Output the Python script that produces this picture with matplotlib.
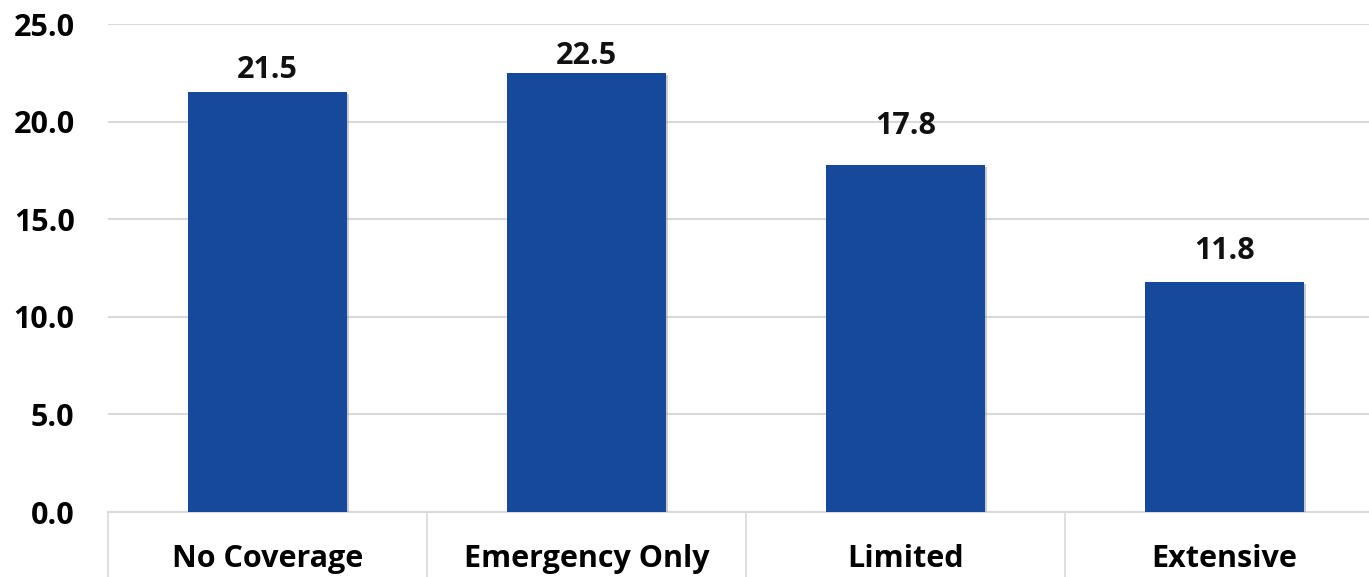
import matplotlib.pyplot as plt
import matplotlib.patheffects as pe
import numpy as np

categories = ["No Coverage", "Emergency Only", "Limited", "Extensive"]
values = [21.5, 22.5, 17.8, 11.8]
yticks = [0, 5, 10, 15, 20, 25]

# gap above each bar for its label (points), as placed in the original
label_gaps = [5, 1.5, 17, 11]

plt.rcParams['font.family'] = ['Open Sans', 'DejaVu Sans']

W, H = 1369, 577
fig = plt.figure(figsize=(W / 100, H / 100), dpi=100)
ax = fig.add_axes([108 / W, (H - 512) / H, (1384 - 108) / W, (512 - 24) / H])

x = np.arange(len(categories))
bars = ax.bar(x, values, width=0.5, color="#16499c", zorder=3)
for b in bars:
    b.set_path_effects([pe.SimplePatchShadow(offset=(1.5, -1.5), shadow_rgbFace="#999999", alpha=0.5),
                        pe.Normal()])

for xi, v, g in zip(x, values, label_gaps):
    ax.annotate(f"{v:.1f}", (xi, v), xytext=(0, g), textcoords="offset points",
                ha="center", va="bottom", fontsize=22, fontweight="bold", color="#111111")

ax.set_xlim(-0.5, len(categories) - 0.5)
ax.set_ylim(0, 25)
ax.set_yticks(yticks)
ax.set_yticklabels([f"{t:.1f}" for t in yticks], fontsize=22, fontweight="bold")
ax.yaxis.grid(True, color="#d9d9d9", linewidth=1.5, zorder=0)
ax.tick_params(axis="y", length=0, pad=24)

ax.set_xticks(x)
ax.set_xticklabels(categories, fontsize=22, fontweight="bold")
ax.set_xticks(np.arange(len(categories) + 1) - 0.5, minor=True)
ax.tick_params(axis="x", which="major", length=0, pad=23)
ax.tick_params(axis="x", which="minor", length=47, width=1.2, color="#d9d9d9")

for s in ["top", "right", "left"]:
    ax.spines[s].set_visible(False)
ax.spines["bottom"].set_color("#d9d9d9")
ax.spines["bottom"].set_linewidth(1.5)

fig.savefig("out.png", dpi=100)
